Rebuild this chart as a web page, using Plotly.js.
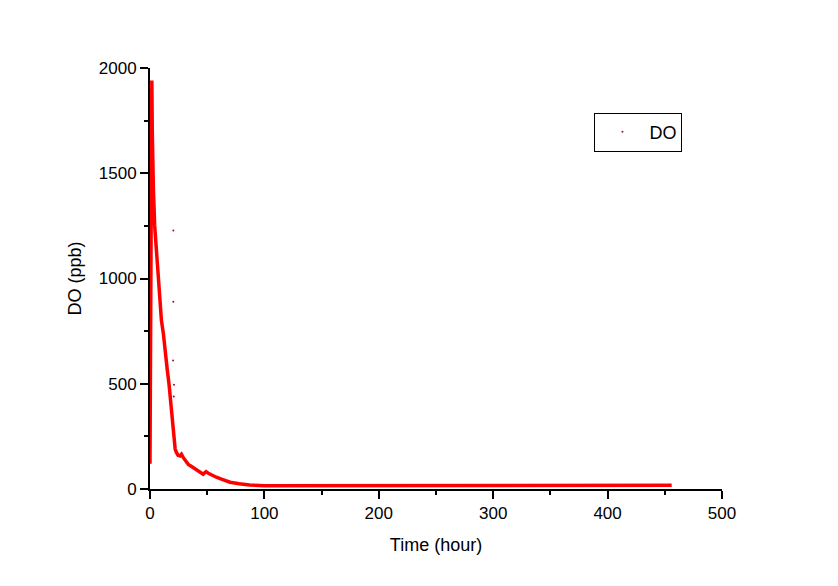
<!DOCTYPE html>
<html>
<head>
<meta charset="utf-8">
<script src="https://cdn.plot.ly/plotly-3.0.1.min.js"></script>
<style>html,body{margin:0;padding:0;background:#fff;}#chart{width:838px;height:586px;}</style>
</head>
<body>
<div id="chart"></div>
<script>
// Main DO curve (time in hours, DO in ppb)
const timeHour = [0, 0.2, 0.5, 0.8, 1.2, 1.6, 2.0, 2.4, 3, 4.1, 5, 6, 7.6, 8.7, 10, 11.7, 13, 15, 16.6, 18, 19.5, 20.4, 21.2, 22, 23, 24.5, 26.2, 27.5, 29, 31, 33.5, 36, 40, 43, 45, 46.5, 48, 49, 51, 54, 58, 63, 70, 78, 87, 100, 120, 150, 200, 250, 300, 350, 400, 456];
const doPpb    = [120, 400, 1000, 1500, 1800, 1940, 1700, 1500, 1420, 1250, 1180, 1100, 1000, 900, 800, 738, 660, 570, 500, 420, 330, 262, 215, 190, 175, 160, 157, 165, 150, 135, 117, 108, 95, 85, 77, 70, 78, 82, 75, 66, 56, 46, 32, 25, 19, 15, 15, 14, 16, 17, 17, 18, 18, 18];
// Stray points
const strayTime = [20.4, 20.4, 20.2, 21.0, 20.8];
const strayDo   = [1228, 890, 610, 495, 440];

const xTicks = [0, 100, 200, 300, 400, 500];
const yTicks = [0, 500, 1000, 1500, 2000];

const fontFam = 'Liberation Sans, Arial, sans-serif';

const traces = [
  {x: timeHour, y: doPpb, type: 'scatter', mode: 'lines',
   line: {color: '#ff0000', width: 3.5}, showlegend: false, legendgroup: 'do', hoverinfo: 'skip'},
  {x: strayTime, y: strayDo, type: 'scatter', mode: 'markers', name: 'DO', legendgroup: 'do',
   marker: {color: '#a01030', size: 2}}
];

const axisCommon = {
  showgrid: false, zeroline: false, showline: true, linecolor: '#000', linewidth: 2,
  ticks: 'outside', ticklen: 8, tickwidth: 2, tickcolor: '#000',
  tickfont: {family: fontFam, size: 17, color: '#000'}, mirror: false
};

const layout = {
  width: 838, height: 586,
  paper_bgcolor: '#fff', plot_bgcolor: '#fff',
  margin: {l: 150, r: 116, t: 68, b: 97, pad: 0},
  font: {family: fontFam, color: '#000'},
  xaxis: Object.assign({}, axisCommon, {
    range: [0, 500], tickvals: xTicks, ticktext: xTicks.map(String),
    minor: {dtick: 50, tick0: 0, ticks: 'outside', ticklen: 4, tickwidth: 2, tickcolor: '#000', showgrid: false},
    title: {text: 'Time (hour)', font: {family: fontFam, size: 18, color: '#000'}, standoff: 16},
    automargin: false
  }),
  yaxis: Object.assign({}, axisCommon, {
    range: [0, 2000], tickvals: yTicks, ticktext: yTicks.map(String),
    minor: {dtick: 250, tick0: 0, ticks: 'outside', ticklen: 4, tickwidth: 2, tickcolor: '#000', showgrid: false},
    title: {text: 'DO (ppb)', font: {family: fontFam, size: 18, color: '#000'}, standoff: 12},
    automargin: false
  }),
  legend: {
    x: 0.777, y: 0.894, xanchor: 'left', yanchor: 'top',
    bgcolor: '#fff', bordercolor: '#000', borderwidth: 1, itemwidth: 44,
    font: {family: fontFam, size: 18, color: '#000'}
  },
  showlegend: true
};

Plotly.newPlot('chart', traces, layout, {displayModeBar: false, staticPlot: true});
</script>
</body>
</html>
